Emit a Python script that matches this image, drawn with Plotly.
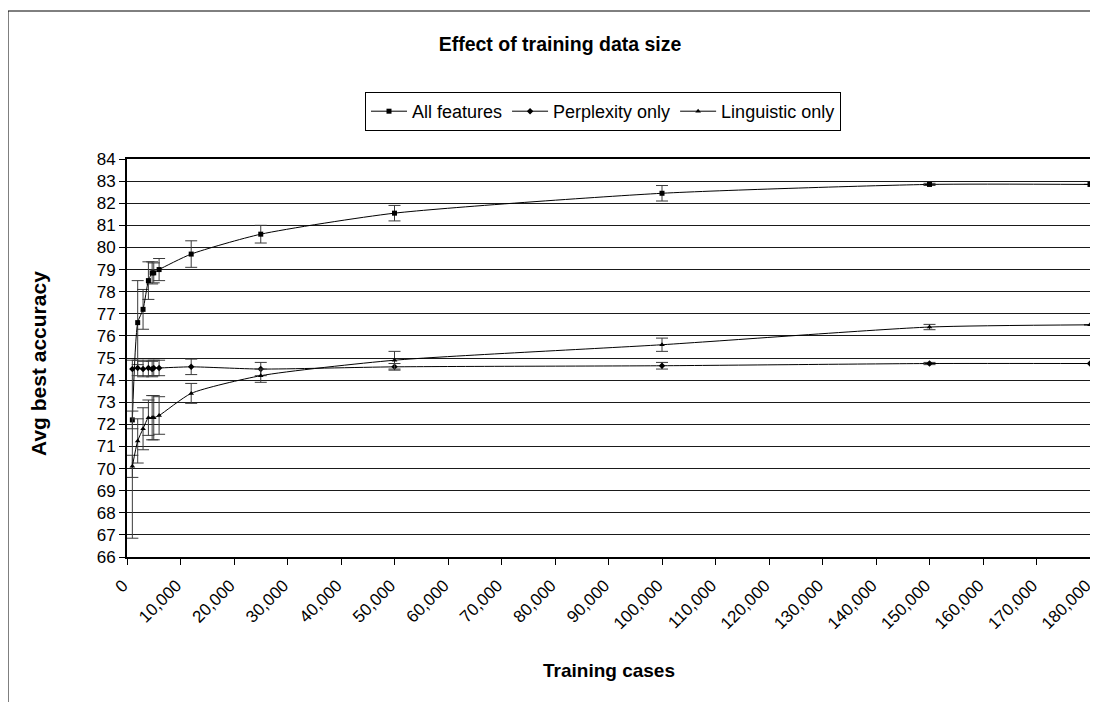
import plotly.graph_objects as go

# ---- data ----
training_cases = [1000, 2000, 3000, 4000, 4700, 5000, 6000, 12000, 25000, 50000, 100000, 150000, 180000]

all_features = [72.2, 76.6, 77.2, 78.5, 78.85, 78.85, 79.0, 79.7, 80.6, 81.55, 82.45, 82.85, 82.85]
all_err = [0.4, 1.9, 0.9, 0.85, 0.5, 0.45, 0.5, 0.6, 0.4, 0.35, 0.35, 0.05, 0.0]

perplexity_only = [74.5, 74.55, 74.5, 74.55, 74.5, 74.55, 74.55, 74.6, 74.5, 74.6, 74.65, 74.75, 74.75]
perp_err_plus = [0.4, 0.35, 0.35, 0.35, 0.35, 0.35, 0.35, 0.35, 0.3, 0.15, 0.15, 0.05, 0.0]
perp_err_minus = [7.65, 0.35, 0.35, 0.35, 0.35, 0.35, 0.35, 0.35, 0.3, 0.15, 0.15, 0.05, 0.0]

linguistic_only = [70.1, 71.25, 71.8, 72.3, 72.3, 72.3, 72.4, 73.4, 74.2, 74.9, 75.6, 76.4, 76.5]
ling_err = [0.5, 1.0, 0.95, 0.8, 1.0, 1.0, 0.85, 0.45, 0.3, 0.4, 0.3, 0.12, 0.0]

x_ticks = list(range(0, 180001, 10000))
y_ticks = list(range(66, 85, 1))

FONT = "Liberation Sans, Arial, sans-serif"
ERR_COLOR = "#3a3a3a"

fig = go.Figure()

fig.add_trace(go.Scatter(
    x=training_cases, y=all_features, name="All features",
    mode="lines+markers",
    line=dict(color="black", width=1, shape="spline", smoothing=0.6),
    marker=dict(symbol="square", size=5, color="black"),
    error_y=dict(type="data", array=all_err, visible=True, color=ERR_COLOR, thickness=1, width=6),
))
fig.add_trace(go.Scatter(
    x=training_cases, y=perplexity_only, name="Perplexity only",
    mode="lines+markers",
    line=dict(color="black", width=1, shape="spline", smoothing=0.6),
    marker=dict(symbol="diamond", size=5, color="black"),
    error_y=dict(type="data", symmetric=False, array=perp_err_plus, arrayminus=perp_err_minus,
                 visible=True, color=ERR_COLOR, thickness=1, width=6),
))
fig.add_trace(go.Scatter(
    x=training_cases, y=linguistic_only, name="Linguistic only",
    mode="lines+markers",
    line=dict(color="black", width=1, shape="spline", smoothing=0.6),
    marker=dict(symbol="triangle-up", size=5, color="black"),
    error_y=dict(type="data", array=ling_err, visible=True, color=ERR_COLOR, thickness=1, width=6),
))

# the page body adds an 8px margin; work in figure pixel coordinates
W, H = 1090, 694
L, R, T, B = 119, 8, 151, 145
pw, ph = W - L - R, H - T - B


def px_x(p):
    return (p - L) / pw


def px_y(p):
    return (H - B - p) / ph


fig.update_layout(
    width=W, height=H,
    margin=dict(l=L, r=R, t=T, b=B, autoexpand=False),
    paper_bgcolor="white", plot_bgcolor="white",
    font=dict(family=FONT, size=16, color="black"),
    showlegend=True,
    legend=dict(
        orientation="h",
        x=px_x(357), y=px_y(84), xanchor="left", yanchor="top",
        bordercolor="black", borderwidth=1, bgcolor="white",
        font=dict(family=FONT, size=18, color="black"),
        itemwidth=36, tracegroupgap=0,
    ),
    title=dict(
        text="<b>Effect of training data size</b>",
        x=px_x(552), xref="paper", xanchor="center",
        y=1 - 36 / H, yref="container", yanchor="middle",
        font=dict(family=FONT, size=19.5, color="black"),
    ),
    xaxis=dict(
        range=[0, 180000], tickmode="array", tickvals=x_ticks,
        ticktext=[f"{v:,}" for v in x_ticks],
        tickangle=-45, ticks="outside", ticklen=6, tickcolor="black",
        ticklabelshift=-4, ticklabelstandoff=4,
        showline=True, linecolor="black", linewidth=2, mirror=True,
        showgrid=False, zeroline=False,
        tickfont=dict(family=FONT, size=17, color="black"),
    ),
    yaxis=dict(
        range=[66, 84], tickmode="array", tickvals=y_ticks,
        ticks="outside", ticklen=6, tickcolor="black",
        showline=True, linecolor="black", linewidth=2, mirror=True,
        showgrid=True, gridcolor="#1a1a1a", gridwidth=1, zeroline=False,
        tickfont=dict(family=FONT, size=17, color="black"),
    ),
    annotations=[
        dict(text="<b>Avg best accuracy</b>", xref="paper", yref="paper",
             x=px_x(30), y=px_y(356), textangle=-90, showarrow=False,
             xanchor="center", yanchor="middle",
             font=dict(family=FONT, size=21, color="black")),
        dict(text="<b>Training cases</b>", xref="paper", yref="paper",
             x=px_x(601), y=px_y(662), showarrow=False,
             xanchor="center", yanchor="middle",
             font=dict(family=FONT, size=19, color="black")),
    ],
    shapes=[
        dict(type="rect", xref="paper", yref="paper",
             x0=px_x(0), x1=px_x(1110), y0=px_y(720), y1=px_y(3),
             line=dict(color="black", width=1), fillcolor="rgba(0,0,0,0)", layer="below"),
    ],
)

fig.write_html("out.html")
